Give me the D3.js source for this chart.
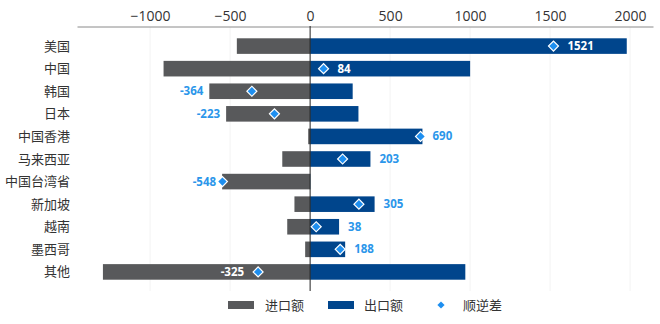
<!DOCTYPE html>
<html><head><meta charset="utf-8">
<script src="https://cdn.jsdelivr.net/npm/d3@7"></script>
<style>body{margin:0;background:#fff}svg{display:block}</style>
</head><body><div id="c"></div>
<script>
const categories = ["美国","中国","韩国","日本","中国香港","马来西亚","中国台湾省","新加坡","越南","墨西哥","其他"];
const imports = [458, 916, 630, 525, 12, 174, 550, 98, 143, 31, 1295];
const exports = [1979, 1000, 266, 302, 702, 377, 2, 403, 181, 219, 970];
const balance = [1521, 84, -364, -223, 690, 203, -548, 305, 38, 188, -325];
const xTicks = [-1000, -500, 0, 500, 1000, 1500, 2000];
const seriesNames = ["进口额","出口额","顺逆差"];

const W = 660, H = 324;
const font = "'Open Sans','Noto Sans CJK SC',sans-serif";
const svg = d3.select("#c").append("svg").attr("width", W).attr("height", H);
const x = d3.scaleLinear().domain([-1457, 2143]).range([77, 653]);
const y = d3.scaleBand().domain(categories).range([27, 291]).paddingInner(0.31).paddingOuter(0.5);
const cImp = "#58595b", cExp = "#00458c", cBal = "#1e8ff0", cLbl = "#2b96ea";

// grid
svg.append("g").selectAll("line").data(xTicks.filter(d => d !== 0)).join("line")
  .attr("x1", d => x(d)).attr("x2", d => x(d)).attr("y1", 27).attr("y2", 291)
  .attr("stroke", "#f3f3f3").attr("stroke-width", 1);

// axis
const ax = svg.append("g").attr("transform", "translate(0,26.5)")
  .call(d3.axisTop(x).tickValues(xTicks).tickFormat(d3.format("d")).tickSize(0).tickPadding(6));
ax.select(".domain").attr("stroke", "#8a8a8a");
ax.selectAll("text").attr("font-family", font).attr("font-size", 14).attr("fill", "#333");

const rows = categories.map((c, i) => ({c, imp: imports[i], exp: exports[i], bal: balance[i]}));
const bh = y.bandwidth();

svg.append("g").selectAll("rect").data(rows).join("rect")
  .attr("x", d => x(-d.imp)).attr("width", d => x(0) - x(-d.imp))
  .attr("y", d => y(d.c)).attr("height", bh).attr("fill", cImp);
svg.append("g").selectAll("rect").data(rows).join("rect")
  .attr("x", x(0)).attr("width", d => x(d.exp) - x(0))
  .attr("y", d => y(d.c)).attr("height", bh).attr("fill", cExp);

// zero line
svg.append("line").attr("x1", x(0)).attr("x2", x(0)).attr("y1", 26).attr("y2", 291)
  .attr("stroke", "#222").attr("stroke-width", 1);

// category labels
svg.append("g").selectAll("text").data(rows).join("text")
  .attr("x", 70).attr("y", d => y(d.c) + bh / 2).attr("dy", "0.35em")
  .attr("text-anchor", "end").attr("font-family", font).attr("font-size", 13).attr("fill", "#333")
  .text(d => d.c);

// diamonds
const sym = d3.symbol().type(d3.symbolSquare).size(50);
svg.append("g").selectAll("path").data(rows).join("path")
  .attr("d", sym)
  .attr("transform", d => `translate(${x(d.bal)},${y(d.c) + bh / 2}) rotate(45)`)
  .attr("fill", cBal).attr("stroke", "#fff").attr("stroke-width", 1.2);

// value labels
svg.append("g").selectAll("text").data(rows).join("text")
  .each(function(d) {
    const barLen = d.bal >= 0 ? d.exp : d.imp;
    const inside = barLen >= 1000;
    const t = d3.select(this);
    let px;
    if (inside) {
      px = d.bal >= 0 ? x(d.bal) + 14 : x(d.bal) - 14;
    } else {
      px = d.bal >= 0 ? Math.max(x(d.exp) + 9, x(d.bal) + 12) : Math.min(x(-d.imp) - 6, x(d.bal) - 5);
    }
    t.attr("x", px).attr("text-anchor", d.bal >= 0 ? "start" : "end").attr("fill", inside ? "#fff" : cLbl);
  })
  .attr("y", d => y(d.c) + bh / 2).attr("dy", "0.35em")
  .attr("font-family", font).attr("font-size", 11.5).attr("font-weight", "bold")
  .text(d => String(d.bal));

// legend
const lg = svg.append("g").attr("transform", "translate(0,305)");
lg.append("rect").attr("x", 228).attr("y", -4).attr("width", 26).attr("height", 8).attr("fill", cImp);
lg.append("text").attr("x", 265).attr("dy", "0.35em").text(seriesNames[0]);
lg.append("rect").attr("x", 328).attr("y", -4).attr("width", 26).attr("height", 8).attr("fill", cExp);
lg.append("text").attr("x", 364).attr("dy", "0.35em").text(seriesNames[1]);
lg.append("path").attr("d", d3.symbol().type(d3.symbolSquare).size(26)())
  .attr("transform", "translate(441,0) rotate(45)").attr("fill", cBal);
lg.append("text").attr("x", 463).attr("dy", "0.35em").text(seriesNames[2]);
lg.selectAll("text").attr("font-family", font).attr("font-size", 13).attr("fill", "#333");
</script></body></html>
